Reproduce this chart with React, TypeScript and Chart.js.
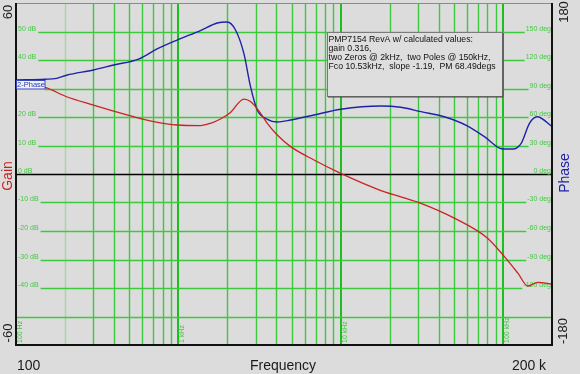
import React, { useEffect, useRef } from "react";
import { Chart, registerables } from "chart.js";

Chart.register(...registerables);

// ---- data ----
const gainFreq = [100, 151, 205, 300, 399, 530, 704, 982, 1367, 1577, 1817, 2094, 2531, 2782, 3208, 3530, 4066, 4915, 6843, 10000, 17660, 23450, 31190, 50050, 80500, 101900, 123300, 142000, 163800, 200000];
const gainDb = [32, 30.4, 27.1, 24.2, 22.1, 20.1, 18.4, 17.2, 17.0, 17.8, 19.3, 21.6, 26.3, 25.4, 21.3, 17.8, 13.7, 9.6, 4.9, 0.2, -5.8, -8.0, -10.3, -15.5, -22.6, -29.0, -34.8, -39.3, -38.0, -38.6];

const phaseFreq = [100, 151, 178, 205, 300, 399, 569, 739, 982, 1367, 1733, 1998, 2249, 2531, 2782, 3060, 3530, 4066, 4915, 6843, 10000, 17660, 23450, 31190, 43430, 60530, 76700, 99550, 114800, 129200, 145300, 162200, 200000];
const phaseDeg = [99, 99.7, 100.7, 104, 109.5, 114.7, 121, 131.6, 141, 151, 159, 160, 151.6, 127, 91.9, 67.4, 57.6, 54.7, 56.8, 62.1, 68.1, 71.6, 70.2, 65.6, 60.3, 50.5, 39.3, 26.3, 26.3, 32.3, 53.4, 60.3, 50];

const freqGrid = [200, 300, 400, 500, 600, 700, 800, 900, 1000, 2000, 3000, 4000, 5000, 6000, 7000, 8000, 9000, 10000, 20000, 30000, 40000, 50000, 60000, 70000, 80000, 90000, 100000];
const freqDecades = [100, 1000, 10000, 100000];
const freqDecadeLabels = ["100 Hz", "1 kHz", "10 kHz", "100 kHz"];

const gainGrid = [50, 40, 30, 20, 10, 0, -10, -20, -30, -40, -50];
const gainTickLabels = ["50 dB", "40 dB", "", "20 dB", "10 dB", "0 dB", "-10 dB", "-20 dB", "-30 dB", "-40 dB", ""];
const phaseTickLabels = ["150 deg", "120 deg", "90 deg", "60 deg", "30 deg", "0 deg", "-30 deg", "-60 deg", "-90 deg", "-120 deg", ""];

const noteLines = [
  "PMP7154 RevA w/ calculated values:",
  "gain 0.316,",
  "two Zeros @ 2kHz,  two Poles @ 150kHz,",
  "Fco 10.53kHz,  slope -1.19,  PM 68.49degs",
];

const FONT = '"Liberation Sans", Arial, Helvetica, sans-serif';
const BG = "#dcdcdc";
const GRID = "#3dc93d";
const LABEL_GREEN = "#45c845";
const RED = "#cc2222";
const BLUE = "#1e22a8";

const bodePlugin = {
  id: "bode",
  beforeDraw(chart: any) {
    const { ctx, width, height } = chart;
    ctx.save();
    ctx.fillStyle = BG;
    ctx.fillRect(0, 0, width, height);
    ctx.restore();
  },
  beforeDatasetsDraw(chart: any) {
    const { ctx, chartArea: a, scales } = chart;
    const yg = scales.yGain;
    const xs = scales.x;
    ctx.save();
    // vertical frequency grid
    freqGrid.forEach((f) => {
      const dec = freqDecades.includes(f);
      const x = Math.round(xs.getPixelForValue(f));
      ctx.beginPath();
      ctx.strokeStyle = dec ? "#1cc01c" : f === 200 ? "#a2d6a2" : GRID;
      ctx.lineWidth = dec ? 2 : 1.4;
      const px = dec ? x : x + 0.5;
      ctx.moveTo(px, a.top);
      ctx.lineTo(px, a.bottom);
      ctx.stroke();
    });
    // horizontal gain/phase grid
    ctx.font = `7px ${FONT}`;
    gainGrid.forEach((v, i) => {
      const y = Math.round(yg.getPixelForValue(v)) + 0.5;
      const lt = gainTickLabels[i];
      const rt = phaseTickLabels[i];
      let x0 = a.left;
      let x1 = a.right;
      if (i === 2) x0 = a.left + 29;
      if (lt) x0 = a.left + 2 + ctx.measureText(lt).width + 2;
      if (rt) x1 = a.right - ctx.measureText(rt).width - 2;
      if (v === 0) {
        x0 = a.left;
        x1 = a.right;
      }
      ctx.beginPath();
      ctx.strokeStyle = v === 0 ? "#000" : GRID;
      ctx.lineWidth = v === 0 ? 1.5 : 1.3;
      ctx.moveTo(x0, y);
      ctx.lineTo(x1, y);
      ctx.stroke();
      ctx.fillStyle = LABEL_GREEN;
      ctx.textBaseline = "alphabetic";
      if (lt) {
        ctx.textAlign = "left";
        ctx.fillText(lt, a.left + 2, y - 1.5);
      }
      if (rt) {
        ctx.textAlign = "right";
        ctx.fillText(rt, a.right - 1, y - 1.5);
      }
    });
    // decade labels (rotated)
    freqDecades.forEach((f, i) => {
      const x = xs.getPixelForValue(f) + 4;
      ctx.save();
      ctx.translate(x, a.bottom - 2);
      ctx.rotate(-Math.PI / 2);
      ctx.textAlign = "left";
      ctx.textBaseline = "middle";
      ctx.fillStyle = LABEL_GREEN;
      ctx.fillText(freqDecadeLabels[i], 0, 0);
      ctx.restore();
    });
    ctx.restore();
  },
  afterDatasetsDraw(chart: any) {
    const { ctx, chartArea: a } = chart;
    ctx.save();
    // frame
    ctx.strokeStyle = "#8a8a8a";
    ctx.lineWidth = 1;
    ctx.beginPath();
    ctx.moveTo(a.left, a.top + 0.5);
    ctx.lineTo(a.right, a.top + 0.5);
    ctx.stroke();
    ctx.strokeStyle = "#111";
    ctx.lineWidth = 2;
    ctx.beginPath();
    ctx.moveTo(a.left, a.top);
    ctx.lineTo(a.left, a.bottom);
    ctx.lineTo(a.right, a.bottom);
    ctx.lineTo(a.right, a.top);
    ctx.stroke();

    // 2-Phase tag
    ctx.fillStyle = "#eef0fb";
    ctx.fillRect(a.left, 80, 29, 9);
    ctx.strokeStyle = "#3a48c0";
    ctx.lineWidth = 1;
    ctx.strokeRect(a.left + 0.5, 80.5, 28.5, 8.5);
    ctx.fillStyle = "#2a3ab0";
    ctx.font = `7.5px ${FONT}`;
    ctx.textAlign = "center";
    ctx.textBaseline = "middle";
    ctx.fillText("2-Phase", a.left + 15, 85);

    // note box
    const bx = 327, by = 32, bw = 175, bh = 64;
    ctx.fillStyle = "#dedede";
    ctx.fillRect(bx, by, bw, bh);
    ctx.strokeStyle = "#7a7a7a";
    ctx.lineWidth = 1;
    ctx.strokeRect(bx + 0.5, by + 0.5, bw, bh);
    ctx.strokeStyle = "#4a4a4a";
    ctx.beginPath();
    ctx.moveTo(bx + bw + 1, by + 1);
    ctx.lineTo(bx + bw + 1, by + bh + 1);
    ctx.lineTo(bx + 1, by + bh + 1);
    ctx.stroke();
    ctx.fillStyle = "#111";
    ctx.font = `8.7px ${FONT}`;
    ctx.textAlign = "left";
    ctx.textBaseline = "alphabetic";
    noteLines.forEach((t, i) => ctx.fillText(t, bx + 1.5, 41.5 + i * 9.2));
    ctx.restore();
  },
  afterDraw(chart: any) {
    const { ctx } = chart;
    ctx.save();
    const rot = (t: string, x: number, y: number, color: string, size: number) => {
      ctx.save();
      ctx.translate(x, y);
      ctx.rotate(-Math.PI / 2);
      ctx.font = `${size}px ${FONT}`;
      ctx.fillStyle = color;
      ctx.textAlign = "center";
      ctx.textBaseline = "middle";
      ctx.fillText(t, 0, 0);
      ctx.restore();
    };
    rot("60", 8, 12, "#1a1a1a", 13);
    rot("Gain", 8, 176, RED, 14);
    rot("-60", 8, 333, "#1a1a1a", 13);
    rot("180", 564, 12, "#1a1a1a", 13);
    rot("Phase", 565, 173, BLUE, 14);
    rot("-180", 563, 331, "#1a1a1a", 13);

    ctx.font = `14px ${FONT}`;
    ctx.fillStyle = "#1a1a1a";
    ctx.textBaseline = "alphabetic";
    ctx.textAlign = "left";
    ctx.fillText("100", 17, 370);
    ctx.textAlign = "center";
    ctx.fillText("Frequency", 283, 370);
    ctx.fillText("200 k", 529, 370);
    ctx.restore();
  },
};

export default function App() {
  const ref = useRef<HTMLCanvasElement | null>(null);

  useEffect(() => {
    document.body.style.margin = "0";
    document.body.style.background = BG;
    const canvas = ref.current;
    if (!canvas) return;
    const chart = new Chart(canvas, {
      type: "line",
      data: {
        datasets: [
          {
            label: "Gain",
            data: gainFreq.map((f, i) => ({ x: f, y: gainDb[i] })),
            yAxisID: "yGain",
            borderColor: RED,
            borderWidth: 1.3,
            pointRadius: 0,
            cubicInterpolationMode: "monotone",
            fill: false,
          },
          {
            label: "Phase",
            data: phaseFreq.map((f, i) => ({ x: f, y: phaseDeg[i] })),
            yAxisID: "yPhase",
            borderColor: BLUE,
            borderWidth: 1.4,
            pointRadius: 0,
            cubicInterpolationMode: "monotone",
            fill: false,
          },
        ],
      },
      options: {
        animation: false,
        responsive: false,
        devicePixelRatio: 1,
        events: [],
        layout: { padding: { left: 16, right: 28, top: 3, bottom: 29 } },
        plugins: { legend: { display: false }, tooltip: { enabled: false }, title: { display: false } },
        scales: {
          x: {
            type: "logarithmic",
            min: 100,
            max: 200000,
            display: false,
          },
          yGain: { type: "linear", position: "left", min: -60, max: 60, display: false },
          yPhase: { type: "linear", position: "right", min: -180, max: 180, display: false },
        },
      },
      plugins: [bodePlugin],
    } as any);
    return () => chart.destroy();
  }, []);

  return (
    <div style={{ width: 580, height: 374 }}>
      <canvas ref={ref} width={580} height={374} style={{ display: "block" }} />
    </div>
  );
}
